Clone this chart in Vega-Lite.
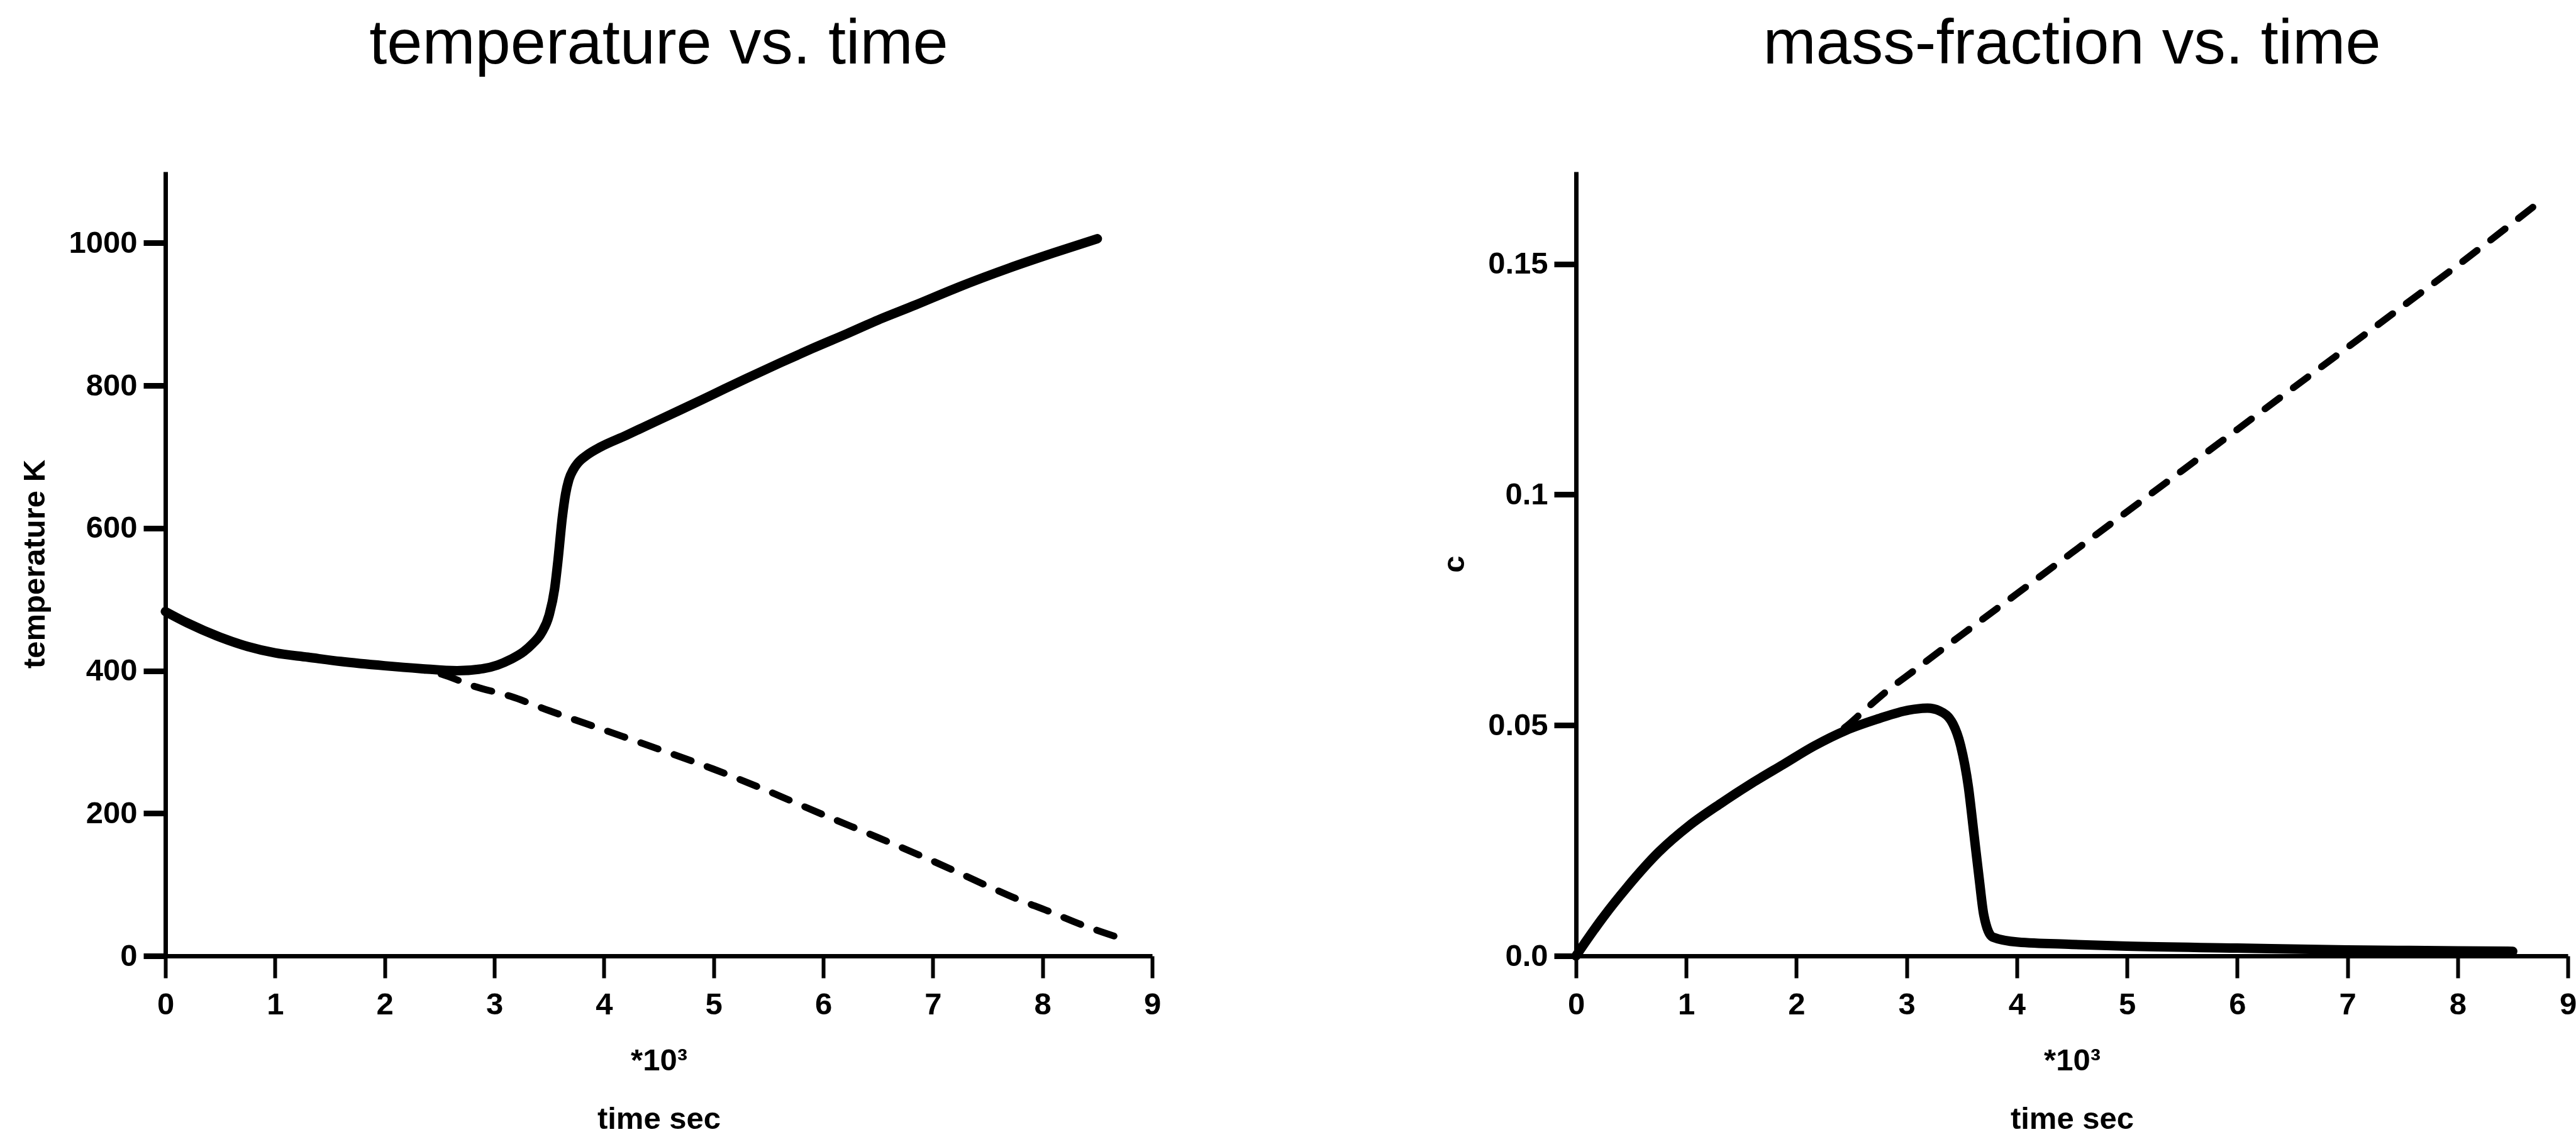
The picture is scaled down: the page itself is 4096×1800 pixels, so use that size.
{
  "$schema": "https://vega.github.io/schema/vega-lite/v6.json",
  "autosize": {"type": "pad"},
  "padding": {"left": 31, "top": 20, "right": 0, "bottom": 20},
  "background": "white",
  "spacing": 674,
  "bounds": "flush",
  "config": {
    "font": "Liberation Sans",
    "view": {"stroke": null},
    "axis": {
      "grid": false,
      "domainColor": "black",
      "domainWidth": 7,
      "tickColor": "black",
      "tickSize": 35,
      "tickWidth": 7,
      "labelFont": "Liberation Sans",
      "labelFontSize": 49,
      "labelFontWeight": "bold",
      "labelColor": "black",
      "titleFont": "Liberation Sans",
      "titleFontSize": 49,
      "titleFontWeight": "bold",
      "titleColor": "black",
      "labelOverlap": false,
      "labelFlush": false
    },
    "title": {"font": "Liberation Sans", "fontSize": 101, "fontWeight": "normal", "color": "black", "anchor": "middle", "baseline": "alphabetic", "offset": 151}
  },
  "datasets": {
    "tempSolid": [
      {"t": 0, "T": 483}, {"t": 0.2, "T": 467}, {"t": 0.5, "T": 447}, {"t": 0.75, "T": 434}, {"t": 1, "T": 425},
      {"t": 1.3, "T": 419}, {"t": 1.6, "T": 413}, {"t": 2, "T": 407}, {"t": 2.33, "T": 403}, {"t": 2.66, "T": 400},
      {"t": 2.9, "T": 403}, {"t": 3.03, "T": 408}, {"t": 3.15, "T": 416}, {"t": 3.27, "T": 427}, {"t": 3.35, "T": 438},
      {"t": 3.43, "T": 453}, {"t": 3.5, "T": 478}, {"t": 3.55, "T": 515}, {"t": 3.58, "T": 554}, {"t": 3.62, "T": 615},
      {"t": 3.65, "T": 648}, {"t": 3.68, "T": 668}, {"t": 3.72, "T": 682}, {"t": 3.76, "T": 691}, {"t": 3.85, "T": 703},
      {"t": 3.97, "T": 714}, {"t": 4.2, "T": 730}, {"t": 4.38, "T": 743}, {"t": 4.7, "T": 766}, {"t": 5, "T": 788},
      {"t": 5.3, "T": 810}, {"t": 5.61, "T": 832}, {"t": 5.9, "T": 852}, {"t": 6.22, "T": 873}, {"t": 6.5, "T": 892},
      {"t": 6.84, "T": 913}, {"t": 7.2, "T": 936}, {"t": 7.7, "T": 965}, {"t": 8.1, "T": 986}, {"t": 8.5, "T": 1006}
    ],
    "tempDashed": [
      {"t": 2.2, "T": 405}, {"t": 2.5, "T": 396}, {"t": 2.82, "T": 378}, {"t": 3.15, "T": 364}, {"t": 3.5, "T": 344},
      {"t": 4, "T": 317}, {"t": 4.5, "T": 290}, {"t": 5, "T": 262}, {"t": 5.5, "T": 231}, {"t": 6, "T": 198},
      {"t": 6.5, "T": 166}, {"t": 7, "T": 133}, {"t": 7.5, "T": 98}, {"t": 7.75, "T": 81}, {"t": 8.05, "T": 63},
      {"t": 8.37, "T": 43}, {"t": 8.67, "T": 27}, {"t": 8.77, "T": 22}
    ],
    "cSolid": [
      {"t": 0, "c": 0}, {"t": 0.1, "c": 0.0035}, {"t": 0.25, "c": 0.0085}, {"t": 0.46, "c": 0.0148}, {"t": 0.75, "c": 0.0225},
      {"t": 1.03, "c": 0.0283}, {"t": 1.31, "c": 0.033}, {"t": 1.6, "c": 0.0375}, {"t": 1.88, "c": 0.0415},
      {"t": 2.16, "c": 0.0455}, {"t": 2.45, "c": 0.0489}, {"t": 2.73, "c": 0.0513}, {"t": 3.02, "c": 0.0533}, {"t": 3.19, "c": 0.0537},
      {"t": 3.3, "c": 0.0531}, {"t": 3.42, "c": 0.0503}, {"t": 3.49, "c": 0.0456}, {"t": 3.56, "c": 0.0367}, {"t": 3.61, "c": 0.0266},
      {"t": 3.66, "c": 0.0164}, {"t": 3.7, "c": 0.0089}, {"t": 3.78, "c": 0.0041}, {"t": 4.01, "c": 0.003}, {"t": 4.5, "c": 0.0025},
      {"t": 5, "c": 0.0021}, {"t": 6, "c": 0.0017}, {"t": 7, "c": 0.0013}, {"t": 8, "c": 0.0011}, {"t": 8.5, "c": 0.001}
    ],
    "cDashed": [
      {"t": 2.16, "c": 0.0455}, {"t": 2.45, "c": 0.0497}, {"t": 2.62, "c": 0.0533}, {"t": 2.82, "c": 0.0574}, {"t": 3.07, "c": 0.0619},
      {"t": 3.33, "c": 0.0666}, {"t": 3.6, "c": 0.0714}, {"t": 4, "c": 0.0785}, {"t": 4.5, "c": 0.0874}, {"t": 5, "c": 0.0963},
      {"t": 5.5, "c": 0.1052}, {"t": 6, "c": 0.1141}, {"t": 6.5, "c": 0.123}, {"t": 7, "c": 0.1319}, {"t": 7.5, "c": 0.1408},
      {"t": 8, "c": 0.1497}, {"t": 8.72, "c": 0.163}
    ]
  },
  "hconcat": [
    {
      "title": "temperature vs. time",
      "width": 1569,
      "height": 1247,
      "encoding": {
        "x": {"field": "t", "type": "quantitative", "scale": {"domain": [0, 9], "nice": false},
          "axis": {"values": [0, 1, 2, 3, 4, 5, 6, 7, 8, 9], "format": "d", "title": ["*10³", "time sec"], "titleLineHeight": 93, "labelPadding": 18, "titlePadding": 40, "tickWidth": 6}},
        "y": {"field": "T", "type": "quantitative", "scale": {"domain": [0, 1100], "nice": false},
          "axis": {"values": [0, 200, 400, 600, 800, 1000], "format": "d", "title": "temperature K", "labelPadding": 10, "titlePadding": 28, "tickWidth": 9}}
      },
      "layer": [
        {"data": {"name": "tempDashed"}, "mark": {"type": "line", "color": "black", "strokeWidth": 11, "strokeDash": [29, 27], "strokeCap": "round", "interpolate": "monotone"}},
        {"data": {"name": "tempSolid"}, "mark": {"type": "line", "color": "black", "strokeWidth": 15, "strokeCap": "round", "strokeJoin": "round", "interpolate": "monotone"}}
      ]
    },
    {
      "title": "mass-fraction vs. time",
      "width": 1577,
      "height": 1247,
      "encoding": {
        "x": {"field": "t", "type": "quantitative", "scale": {"domain": [0, 9], "nice": false},
          "axis": {"values": [0, 1, 2, 3, 4, 5, 6, 7, 8, 9], "format": "d", "title": ["*10³", "time sec"], "titleLineHeight": 93, "labelPadding": 18, "titlePadding": 40, "tickWidth": 6}},
        "y": {"field": "c", "type": "quantitative", "scale": {"domain": [0, 0.17], "nice": false},
          "axis": {"values": [0, 0.05, 0.1, 0.15], "labelExpr": "datum.value == 0 ? '0.0' : (datum.value == 0.1 ? '0.1' : datum.label)", "title": "c", "labelPadding": 10, "titlePadding": 28, "tickWidth": 9}}
      },
      "layer": [
        {"data": {"name": "cDashed"}, "mark": {"type": "line", "color": "black", "strokeWidth": 11, "strokeDash": [29, 27], "strokeCap": "round", "interpolate": "monotone"}},
        {"data": {"name": "cSolid"}, "mark": {"type": "line", "color": "black", "strokeWidth": 15, "strokeCap": "round", "strokeJoin": "round", "interpolate": "monotone"}}
      ]
    }
  ]
}
